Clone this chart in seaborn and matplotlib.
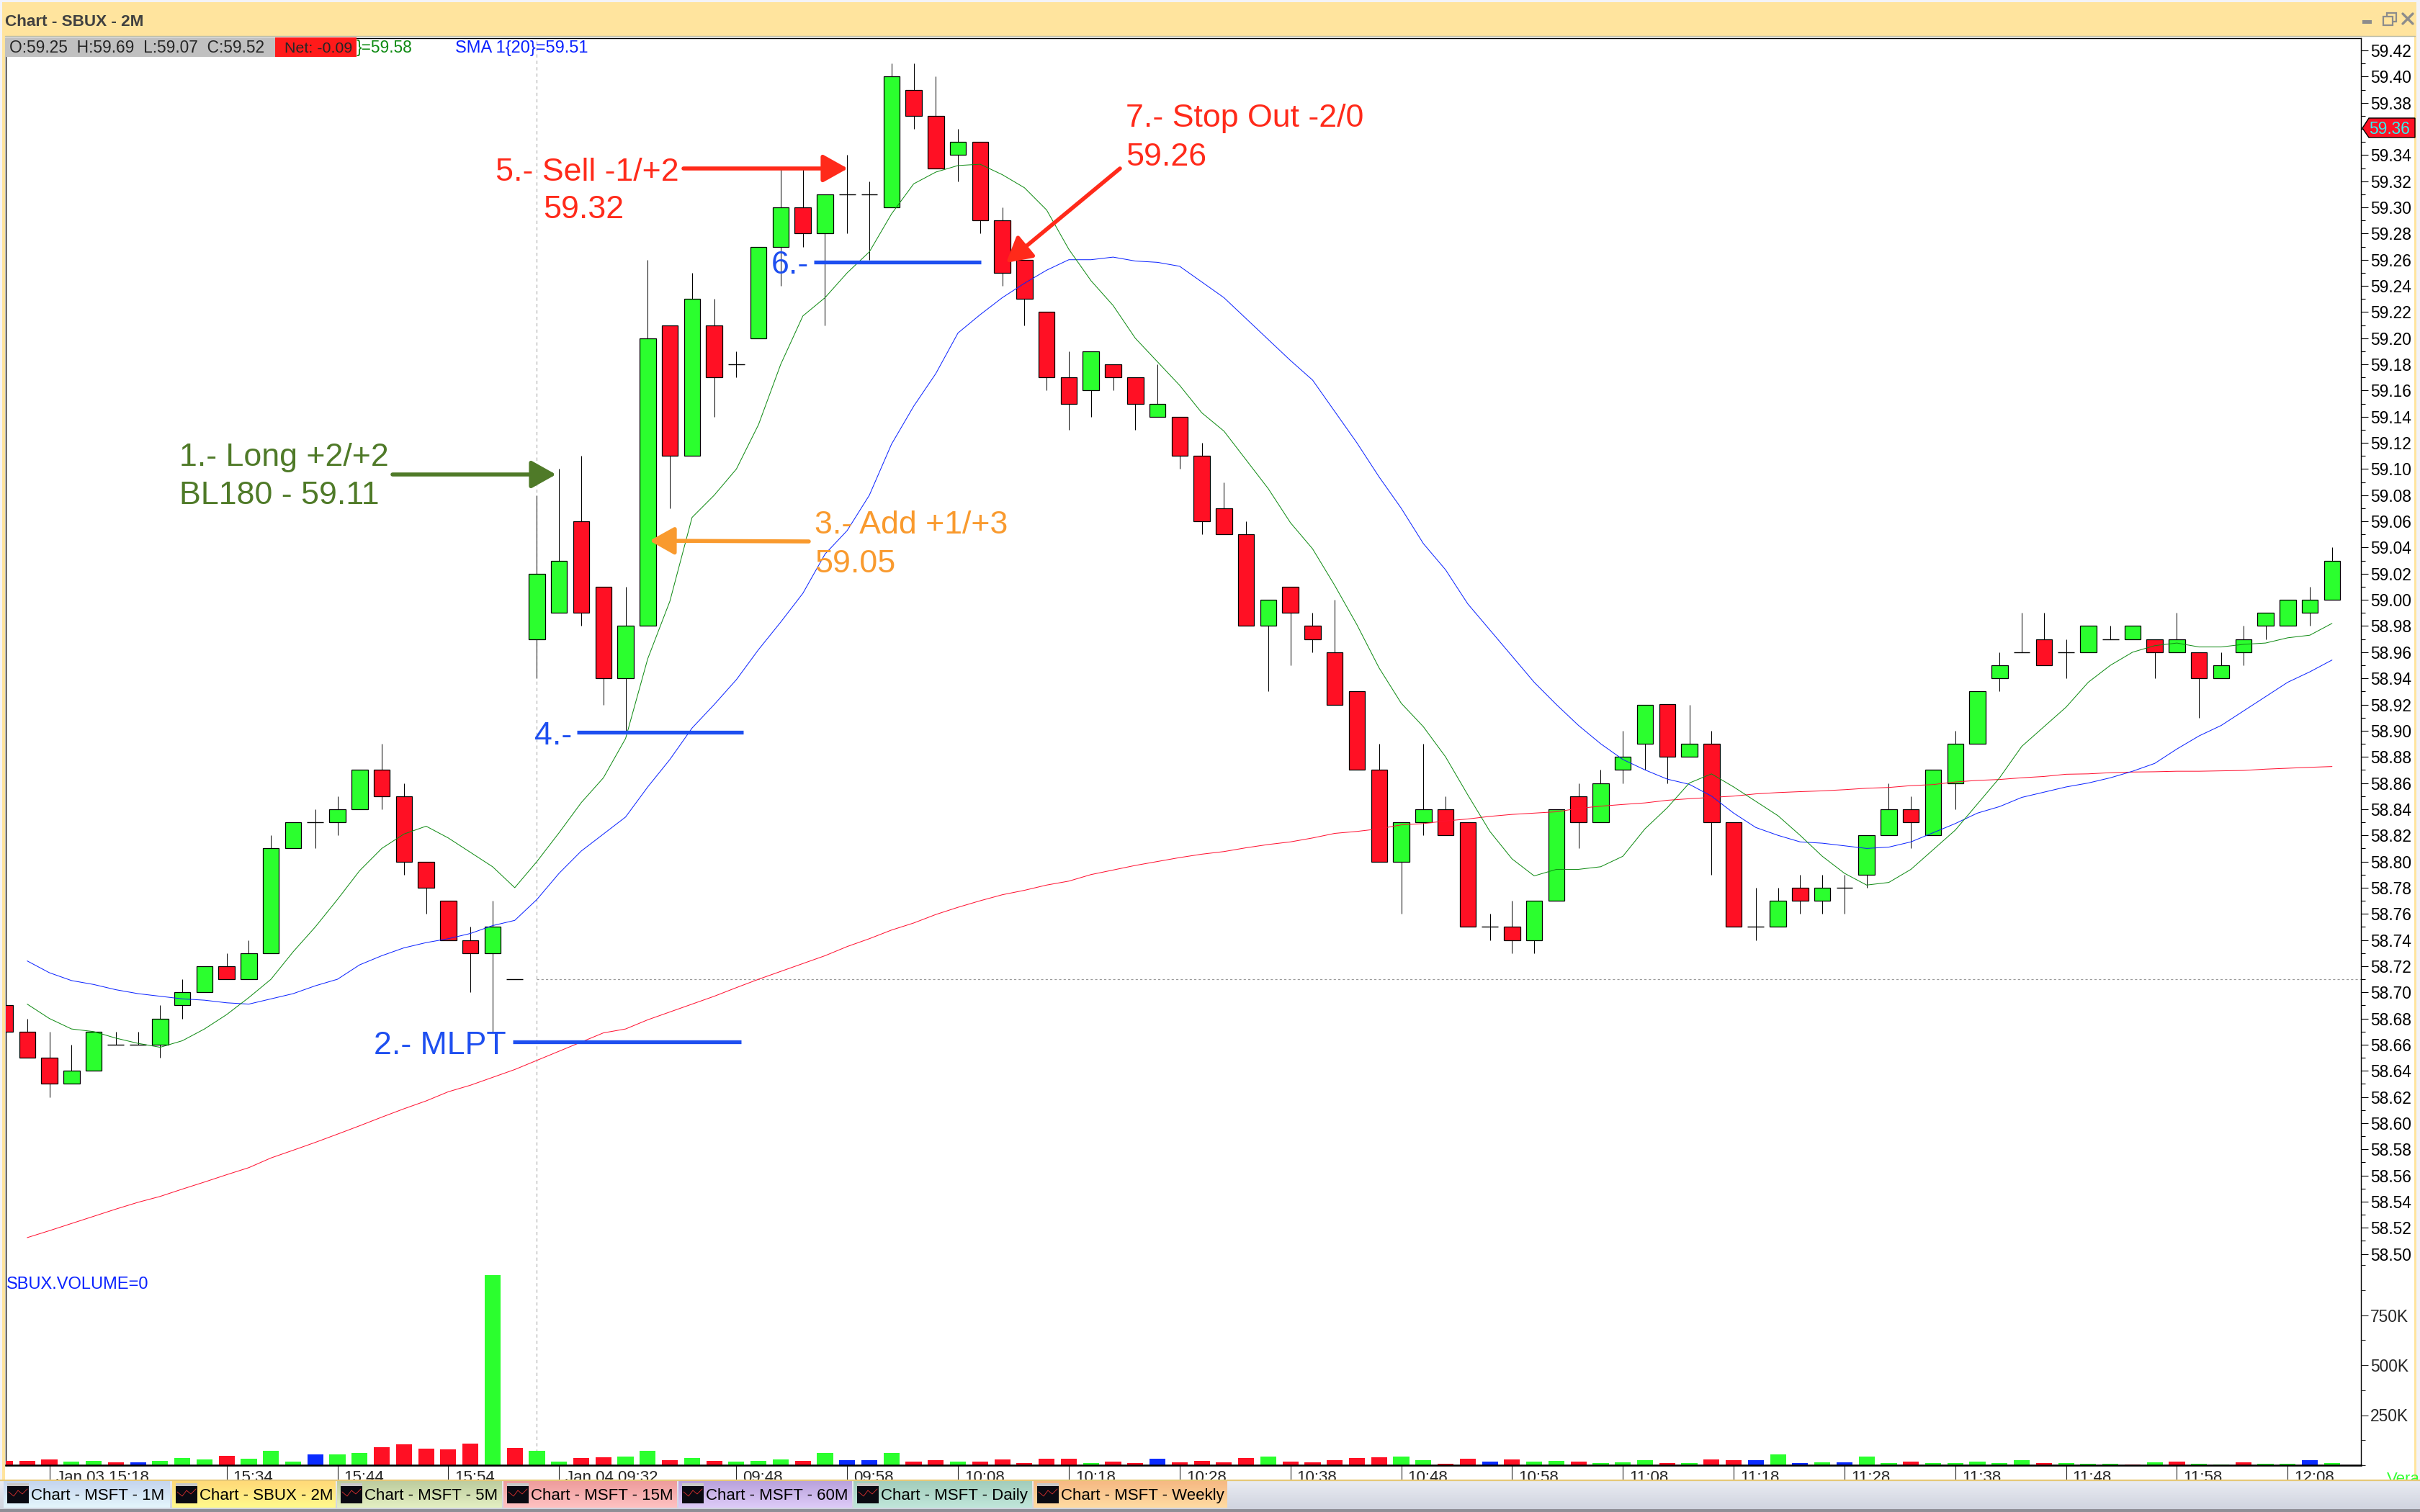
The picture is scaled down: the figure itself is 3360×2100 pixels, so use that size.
import numpy as np
import pandas as pd
import matplotlib
matplotlib.use("Agg")
import matplotlib.pyplot as plt
import seaborn as sns
from matplotlib.patches import Polygon, Rectangle
from matplotlib.transforms import ScaledTranslation
from matplotlib.colors import LinearSegmentedColormap

# ------------------------------------------------------------
# Chart values (SBUX 2 minute bars)
# ------------------------------------------------------------
opens = [58.69, 58.67, 58.65, 58.63, 58.64, 58.66, 58.66, 58.66, 58.69, 58.70,
         58.72, 58.71, 58.73, 58.81, 58.83, 58.83, 58.84, 58.87, 58.85, 58.80,
         58.77, 58.74, 58.73, 58.71, 58.97, 58.99, 59.06, 59.01, 58.94, 58.98,
         59.21, 59.11, 59.21, 59.18, 59.20, 59.27, 59.30, 59.28, 59.31, 59.31,
         59.30, 59.39, 59.37, 59.34, 59.35, 59.29, 59.26, 59.22, 59.17, 59.16,
         59.18, 59.17, 59.14, 59.14, 59.11, 59.07, 59.05, 58.98, 59.01, 58.98,
         58.96, 58.93, 58.87, 58.80, 58.83, 58.84, 58.83, 58.75, 58.75, 58.74,
         58.77, 58.85, 58.83, 58.87, 58.89, 58.92, 58.88, 58.89, 58.83, 58.75,
         58.75, 58.78, 58.77, 58.78, 58.79, 58.82, 58.84, 58.82, 58.86, 58.89,
         58.94, 58.96, 58.97, 58.96, 58.96, 58.97, 58.97, 58.97, 58.96, 58.96,
         58.94, 58.96, 58.98, 58.98, 58.99, 59.00]
highs = [58.69, 58.68, 58.67, 58.66, 58.67, 58.67, 58.67, 58.69, 58.71, 58.72,
         58.73, 58.74, 58.82, 58.83, 58.84, 58.85, 58.87, 58.89, 58.86, 58.80,
         58.77, 58.75, 58.77, 58.71, 59.08, 59.10, 59.11, 59.01, 59.01, 59.26,
         59.21, 59.25, 59.23, 59.19, 59.27, 59.33, 59.33, 59.31, 59.34, 59.32,
         59.41, 59.41, 59.40, 59.36, 59.35, 59.30, 59.26, 59.22, 59.19, 59.19,
         59.18, 59.17, 59.18, 59.14, 59.12, 59.09, 59.06, 59.00, 59.01, 58.99,
         59.00, 58.93, 58.89, 58.83, 58.89, 58.85, 58.83, 58.76, 58.77, 58.77,
         58.84, 58.86, 58.87, 58.90, 58.92, 58.92, 58.92, 58.90, 58.83, 58.78,
         58.78, 58.79, 58.79, 58.79, 58.82, 58.86, 58.85, 58.87, 58.90, 58.93,
         58.96, 58.99, 58.99, 58.97, 58.98, 58.98, 58.98, 58.97, 58.99, 58.96,
         58.96, 58.98, 58.99, 59.00, 59.01, 59.04]
lows = [58.67, 58.65, 58.62, 58.63, 58.64, 58.66, 58.66, 58.65, 58.68, 58.70,
        58.71, 58.71, 58.73, 58.81, 58.81, 58.82, 58.84, 58.84, 58.79, 58.76,
        58.74, 58.70, 58.67, 58.71, 58.94, 58.99, 58.98, 58.92, 58.90, 58.98,
        59.07, 59.11, 59.14, 59.17, 59.20, 59.24, 59.27, 59.21, 59.28, 59.26,
        59.30, 59.36, 59.33, 59.32, 59.28, 59.24, 59.21, 59.16, 59.13, 59.14,
        59.16, 59.13, 59.14, 59.10, 59.05, 59.05, 58.98, 58.93, 58.95, 58.96,
        58.92, 58.87, 58.80, 58.76, 58.82, 58.82, 58.75, 58.74, 58.73, 58.73,
        58.77, 58.81, 58.83, 58.86, 58.87, 58.86, 58.88, 58.79, 58.75, 58.74,
        58.75, 58.76, 58.76, 58.76, 58.78, 58.82, 58.81, 58.82, 58.84, 58.89,
        58.93, 58.96, 58.95, 58.94, 58.96, 58.97, 58.97, 58.94, 58.96, 58.91,
        58.94, 58.95, 58.97, 58.98, 58.98, 59.00]
closes = [58.67, 58.65, 58.63, 58.64, 58.67, 58.66, 58.66, 58.68, 58.70, 58.72,
          58.71, 58.73, 58.81, 58.83, 58.83, 58.84, 58.87, 58.85, 58.80, 58.78,
          58.74, 58.73, 58.75, 58.71, 59.02, 59.03, 58.99, 58.94, 58.98, 59.20,
          59.11, 59.23, 59.17, 59.18, 59.27, 59.30, 59.28, 59.31, 59.31, 59.31,
          59.40, 59.37, 59.33, 59.35, 59.29, 59.25, 59.23, 59.17, 59.15, 59.19,
          59.17, 59.15, 59.15, 59.11, 59.06, 59.05, 58.98, 59.00, 58.99, 58.97,
          58.92, 58.87, 58.80, 58.83, 58.84, 58.82, 58.75, 58.75, 58.74, 58.77,
          58.84, 58.83, 58.86, 58.88, 58.92, 58.88, 58.89, 58.83, 58.75, 58.75,
          58.77, 58.77, 58.78, 58.78, 58.82, 58.84, 58.83, 58.87, 58.89, 58.93,
          58.95, 58.96, 58.95, 58.96, 58.98, 58.97, 58.98, 58.96, 58.97, 58.94,
          58.95, 58.97, 58.99, 59.00, 59.00, 59.03]

sma_fast = [np.nan, 58.691, 58.680, 58.672, 58.670, 58.665, 58.661, 58.658, 58.663, 58.672,
            58.683, 58.696, 58.710, 58.731, 58.750, 58.771, 58.793, 58.810, 58.821, 58.827,
            58.818, 58.807, 58.796, 58.780, 58.800, 58.822, 58.845, 58.864, 58.894, 58.955,
            58.999, 59.063, 59.080, 59.100, 59.134, 59.180, 59.217, 59.231, 59.250, 59.266,
            59.295, 59.318, 59.327, 59.332, 59.333, 59.325, 59.315, 59.298, 59.268, 59.244,
            59.225, 59.200, 59.182, 59.164, 59.143, 59.129, 59.107, 59.085, 59.059, 59.039,
            59.011, 58.981, 58.948, 58.921, 58.903, 58.880, 58.851, 58.823, 58.802, 58.789,
            58.794, 58.794, 58.796, 58.804, 58.825, 58.841, 58.860, 58.867, 58.857, 58.846,
            58.835, 58.820, 58.804, 58.791, 58.782, 58.784, 58.794, 58.809, 58.824, 58.844,
            58.864, 58.888, 58.903, 58.918, 58.937, 58.950, 58.960, 58.965, 58.967, 58.964,
            58.964, 58.966, 58.967, 58.971, 58.973, 58.982]
sma_mid = [np.nan, 58.724, 58.715, 58.709, 58.706, 58.702, 58.699, 58.697, 58.695, 58.694,
           58.692, 58.691, 58.695, 58.699, 58.705, 58.710, 58.721, 58.728, 58.734, 58.738,
           58.741, 58.745, 58.751, 58.755, 58.771, 58.791, 58.808, 58.821, 58.834, 58.857,
           58.878, 58.902, 58.920, 58.939, 58.962, 58.983, 59.005, 59.035, 59.053, 59.080,
           59.119, 59.148, 59.173, 59.204, 59.218, 59.231, 59.242, 59.252, 59.260, 59.260,
           59.262, 59.259, 59.258, 59.255, 59.243, 59.231, 59.215, 59.199, 59.183, 59.168,
           59.144, 59.120, 59.094, 59.070, 59.043, 59.023, 58.997, 58.977, 58.957, 58.937,
           58.920, 58.904, 58.890, 58.878, 58.870, 58.863, 58.859, 58.850, 58.837, 58.826,
           58.820, 58.815, 58.814, 58.812, 58.810, 58.811, 58.815, 58.822, 58.829, 58.837,
           58.842, 58.849, 58.853, 58.857, 58.860, 58.864, 58.869, 58.875, 58.886, 58.896,
           58.904, 58.915, 58.926, 58.937, 58.945, 58.954]
sma_slow = [np.nan, 58.5125, 58.5178, 58.5233, 58.5288, 58.5343, 58.5395, 58.544, 58.5496, 58.555,
            58.5606, 58.566, 58.5734, 58.5793, 58.5853, 58.5916, 58.598, 58.6046, 58.611, 58.617,
            58.624, 58.629, 58.635, 58.641, 58.648, 58.655, 58.662, 58.669, 58.672, 58.679,
            58.685, 58.691, 58.697, 58.7036, 58.710, 58.716, 58.722, 58.728, 58.735, 58.741,
            58.7476, 58.753, 58.7595, 58.765, 58.770, 58.7746, 58.778, 58.782, 58.785, 58.790,
            58.7935, 58.797, 58.800, 58.803, 58.8056, 58.8076, 58.8105, 58.813, 58.815, 58.818,
            58.8215, 58.823, 58.825, 58.828, 58.829, 58.831, 58.8325, 58.8345, 58.836, 58.837,
            58.838, 58.8406, 58.8423, 58.8436, 58.8448, 58.8468, 58.848, 58.849, 58.850, 58.8517,
            58.8527, 58.8534, 58.854, 58.8549, 58.856, 58.8566, 58.858, 58.8588, 58.8608, 58.862,
            58.8627, 58.864, 58.865, 58.8667, 58.867, 58.8679, 58.8684, 58.8686, 58.869, 58.869,
            58.8693, 58.8696, 58.8706, 58.8713, 58.872, 58.8726]

# Volume in thousands of shares, with the colour class of each bar
volumes = [22, 22, 29, 18, 22, 14, 14, 22, 36, 29, 47, 32, 72, 18, 54, 54, 61, 90, 104, 83,
           79, 108, 950, 86, 72, 18, 36, 40, 43, 72, 25, 36, 22, 18, 22, 29, 22, 61, 25, 25,
           61, 18, 25, 18, 18, 29, 11, 32, 32, 11, 18, 11, 32, 14, 22, 14, 36, 43, 18, 14,
           25, 36, 40, 43, 25, 7, 32, 18, 29, 18, 22, 18, 11, 14, 25, 11, 11, 29, 25, 25,
           54, 11, 14, 14, 43, 11, 18, 11, 11, 18, 11, 25, 11, 11, 7, 7, 4, 14, 18, 7,
           4, 14, 7, 7, 25, 11]
volume_kind = list("rrrggrbggg" "rgggbggrrr" "rrgrggrrgg" "rgrgggrgbb" "grrgrrrrrg"
                   "rrbrrrrgrr" "rrrggrrbrg" "grggg" "rgrrb" "gbgbggrggg" "ggrgggrgrg"
                   "grggbg")

tick_bars = [2, 10, 15, 20, 25, 33, 38, 43, 48, 53, 58, 63, 68, 73, 78, 83, 88, 93, 98, 103]
tick_times = ["Jan 03 15:18", "15:34", "15:44", "15:54", "Jan 04 09:32", "09:48", "09:58",
              "10:08", "10:18", "10:28", "10:38", "10:48", "10:58", "11:08", "11:18",
              "11:28", "11:38", "11:48", "11:58", "12:08"]
price_ticks = [59.42, 59.40, 59.38, 59.36, 59.34, 59.32, 59.30, 59.28, 59.26, 59.24, 59.22,
               59.20, 59.18, 59.16, 59.14, 59.12, 59.10, 59.08, 59.06, 59.04, 59.02, 59.00,
               58.98, 58.96, 58.94, 58.92, 58.90, 58.88, 58.86, 58.84, 58.82, 58.80, 58.78,
               58.76, 58.74, 58.72, 58.70, 58.68, 58.66, 58.64, 58.62, 58.60, 58.58, 58.56,
               58.54, 58.52, 58.50]
volume_ticks = [250, 500, 750]
volume_tick_labels = ["250K", "500K", "750K"]
volume_minor = [0, 125, 375, 625, 875, 1000]

prior_close = 58.71
session_bar = 24
level_mlpt = 58.662      # 2.- MLPT
level_four = 58.899      # 4.-
level_six = 59.258       # 6.-

tabs = ["Chart - MSFT - 1M", "Chart - SBUX - 2M", "Chart - MSFT - 5M", "Chart - MSFT - 15M",
        "Chart - MSFT - 60M", "Chart - MSFT - Daily", "Chart - MSFT - Weekly"]

# ------------------------------------------------------------
# Colours, fonts and layout (layout in screenshot pixels)
# ------------------------------------------------------------
UP = "#2BFF2E"
DOWN = "#FF1024"
NEUTRAL = "#0A2BFF"
NOTE_RED = "#FF2A1A"
NOTE_GREEN = "#4F7A28"
NOTE_BLUE = "#1E4FF0"
NOTE_ORANGE = "#F99A2E"

W, H = 3360, 2100
PANE_L, PANE_R, PANE_T, PANE_B = 8, 3278, 53, 2035

sns.set_style("white")
plt.rcParams["font.family"] = ["Liberation Sans", "DejaVu Sans"]

fig = plt.figure(figsize=(W / 200, H / 200), dpi=200, facecolor="white")


def add_px_axes(zorder):
    chrome = fig.add_axes([0, 0, 1, 1], zorder=zorder)
    chrome.set_axis_off()
    chrome.patch.set_alpha(0)
    return chrome


def fix_px(chrome):
    chrome.set_xlim(0, W)
    chrome.set_ylim(H, 0)
    chrome.set_aspect("auto")


def gradient(chrome, x0, y0, x1, y1, top, bottom, z=1):
    cmap = LinearSegmentedColormap.from_list("g", [top, bottom])
    chrome.imshow(np.linspace(0, 1, 64).reshape(-1, 1), cmap=cmap, aspect="auto",
                  extent=(x0, x1, y1, y0), zorder=z, interpolation="bilinear")


back = add_px_axes(0)
front = add_px_axes(5)

# Window frame and title bar
back.add_patch(Rectangle((0, 0), W, H, color="#F3F3F8", lw=0))
back.add_patch(Rectangle((3, 3), W - 8, 2054, color="#FFE49E", lw=0))
back.add_patch(Rectangle((7, 50), W - 15, 2006, color="white", lw=0))
back.plot([7, 3353], [50, 50], color="#B9B9A0", lw=0.5)
fix_px(back)

# ------------------------------------------------------------
# Price pane
# ------------------------------------------------------------
pane_rect = [PANE_L / W, 1 - PANE_B / H, (PANE_R - PANE_L) / W, (PANE_B - PANE_T) / H]
ax = fig.add_axes(pane_rect, zorder=1, facecolor="white")
bars = np.arange(len(opens))
df = pd.DataFrame({"bar": bars, "open": opens, "high": highs, "low": lows, "close": closes,
                   "fast": sma_fast, "mid": sma_mid, "slow": sma_slow})

ax.vlines(df["bar"], df["low"], df["high"], color="black", lw=0.36, zorder=2)
body = df[df["open"] != df["close"]]
body_colors = [UP if c > o else DOWN for o, c in zip(body["open"], body["close"])]
ax.bar(body["bar"], (body["close"] - body["open"]).abs(),
       bottom=body[["open", "close"]].min(axis=1), width=0.73,
       color=body_colors, edgecolor="black", linewidth=0.45, zorder=3)
flat = df[df["open"] == df["close"]]
ax.hlines(flat["open"], flat["bar"] - 0.37, flat["bar"] + 0.37, color="black", lw=0.5, zorder=3)

for column, color in [("slow", "#FF1030"), ("mid", "#0A22FF"), ("fast", "#0E8A12")]:
    sns.lineplot(data=df, x="bar", y=column, color=color, lw=0.36, ax=ax,
                 estimator=None, legend=False, zorder=4)

ax.axvline(session_bar, color="#A8A8A8", lw=0.4, ls=(0, (4, 4)), zorder=1)
ax.plot([session_bar, 107], [prior_close, prior_close], color="#9A9A9A", lw=0.45,
        ls=(0, (2.5, 2.5)), zorder=1)

# Trade level lines
ax.hlines(level_mlpt, 22.9, 33.2, color=NOTE_BLUE, lw=1.9, zorder=5)
ax.hlines(level_four, 25.8, 33.3, color=NOTE_BLUE, lw=1.9, zorder=5)
ax.hlines(level_six, 36.5, 44.05, color=NOTE_BLUE, lw=1.9, zorder=5)

x_left = (PANE_L - 7) / 30.77
x_right = (PANE_R - 7) / 30.77
ax.set_xlim(x_left, x_right)
ax.set_ylim(59.42 - (PANE_B - 70) / 1817, 59.42 + (70 - PANE_T) / 1817)
ax.set_xlabel("")
ax.set_ylabel("")
ax.set_xticks([])
ax.yaxis.tick_right()
ax.set_yticks(price_ticks)
ax.set_yticklabels(["%.2f" % p for p in price_ticks], fontsize=8.2, color="black")
ax.set_yticks(np.array(price_ticks[:-1]) - 0.01, minor=True)
ax.tick_params(axis="y", which="major", direction="out", length=3.6, width=0.4,
               pad=1.2, color="black", right=True, left=False)
ax.tick_params(axis="y", which="minor", direction="out", length=2.2, width=0.4,
               color="black", right=True, left=False)
for side in ["left", "right", "top", "bottom"]:
    ax.spines[side].set_visible(True)
    ax.spines[side].set_linewidth(0.5)
    ax.spines[side].set_color("black")

# ------------------------------------------------------------
# Volume pane, drawn over the lower part of the same area
# ------------------------------------------------------------
vol = fig.add_axes(pane_rect, zorder=2, facecolor="none")
vol_df = pd.DataFrame({"bar": bars, "volume": volumes, "kind": volume_kind})
sns.barplot(data=vol_df, x="bar", y="volume", hue="kind", native_scale=True, dodge=False,
            palette={"g": UP, "r": DOWN, "b": NEUTRAL}, width=0.72, saturation=1,
            linewidth=0, legend=False, ax=vol)
vol.set_xlim(x_left, x_right)
vol.set_ylim(0, (PANE_B - PANE_T) * 250 / 69.5)
vol.set_xlabel("")
vol.set_ylabel("")
vol.yaxis.tick_right()
vol.set_yticks(volume_ticks)
vol.set_yticklabels(volume_tick_labels, fontsize=8.2)
vol.set_yticks(volume_minor, minor=True)
vol.tick_params(axis="y", which="major", length=3.6, width=0.4, pad=1.2, right=True, left=False)
vol.tick_params(axis="y", which="minor", length=2.2, width=0.4, right=True, left=False)
vol.set_xticks(tick_bars)
vol.set_xticklabels(tick_times, fontsize=8, ha="left")
vol.tick_params(axis="x", which="major", direction="out", length=7.4, width=0.4, pad=-5.0,
                bottom=True)
nudge = ScaledTranslation(9 / 200, 0, fig.dpi_scale_trans)
for label in vol.get_xticklabels():
    label.set_transform(label.get_transform() + nudge)
for side in ["left", "right", "top"]:
    vol.spines[side].set_visible(False)
vol.spines["bottom"].set_linewidth(0.9)
vol.spines["bottom"].set_color("black")

# ------------------------------------------------------------
# Front layer: tabs, header text, price tag and trade notes
# ------------------------------------------------------------
front.add_patch(Rectangle((0, 2056), W, 44, color="#E9EBF2", lw=0, zorder=0.5))
gradient(front, 0, 2057, W, 2096, "#E9EBF2", "#D0D4DF", z=0.6)
front.add_patch(Rectangle((0, 2096), W, 4, color="#8E8E96", lw=0, zorder=0.7))
front.plot([0, W], [2056, 2056], color="#E6C878", lw=0.8, zorder=0.8)

tab_edges = [(5, 236), (239, 466), (468, 697), (699, 940), (942, 1183), (1185, 1433), (1435, 1704)]
tab_colors = [("#C5D5EE", "#E4F6FC"), ("#FFD978", "#FFFA8C"), ("#BDCC9F", "#E4F0C2"),
              ("#EE9C9C", "#FFC2C2"), ("#B9A2DC", "#DECBF8"), ("#A3CDBB", "#C0E6DA"),
              ("#F6B983", "#FFDBA2")]
for (x0, x1), (c0, c1), name in zip(tab_edges, tab_colors, tabs):
    gradient(front, x0, 2057, x1, 2094, c0, c1, z=1)
    front.add_patch(Rectangle((x0 + 5, 2064), 30, 24, color="#0A0A12", lw=0, zorder=2))
    front.add_patch(Rectangle((x0 + 5, 2060), 30, 4, color="#C8C8C8", lw=0, zorder=2))
    front.plot([x0 + 7, x0 + 14, x0 + 20, x0 + 26, x0 + 33],
               [2072, 2078, 2070, 2075, 2068], color="#E03030", lw=0.3, zorder=3)
    front.text(x0 + 38, 2083, name, fontsize=8, color="black", va="baseline", zorder=3)

# Title bar
front.text(7, 36, "Chart - SBUX - 2M", fontsize=8.1, fontweight="bold", color="#404040", va="baseline")
front.add_patch(Rectangle((3280, 28), 13, 5, color="#8C8C8C", lw=0))
front.add_patch(Rectangle((3314, 18), 13, 12, fill=False, ec="#8C8C8C", lw=0.8))
front.add_patch(Rectangle((3309, 23), 13, 12, fc="#FFE49E", ec="#8C8C8C", lw=0.8))
front.plot([3336, 3350], [19, 33], color="#8C8C8C", lw=1.2)
front.plot([3336, 3350], [33, 19], color="#8C8C8C", lw=1.2)

# Readout strip
front.add_patch(Rectangle((7, 52), 375, 27, color="#C0C0C0", lw=0))
front.add_patch(Rectangle((382, 52), 113, 27, color="#FF1A1A", lw=0))
front.text(13, 73, "O:59.25  H:59.69  L:59.07  C:59.52", fontsize=8.2, va="baseline")
front.text(395, 73, "Net: -0.09", fontsize=7.7, va="baseline")
front.text(495, 73, "}=59.58", fontsize=8.2, color="#0E8A12", va="baseline")
front.text(632, 73, "SMA 1{20}=59.51", fontsize=8.5, color="#0A22FF", va="baseline")
front.text(9, 1790, "SBUX.VOLUME=0", fontsize=8.5, color="#0A22FF", va="baseline")

# Last price tag
front.add_patch(Polygon([(3280, 178), (3289, 164), (3353, 164), (3353, 191), (3289, 191)],
                        closed=True, fc=DOWN, ec="black", lw=0.5, zorder=3))
front.text(3289, 186, "59.36", fontsize=8.2, color="#30F0F0", va="baseline", zorder=4)

# Clipped label in the lower right corner
front.text(3314, 2060, "Vera", fontsize=8, color="#33FF33", va="baseline", zorder=0.4)

# Trade notes
notes = [("1.- Long +2/+2", 249, 647, NOTE_GREEN), ("BL180 - 59.11", 249, 700, NOTE_GREEN),
         ("2.- MLPT", 519, 1464, NOTE_BLUE), ("3.- Add +1/+3", 1131, 741, NOTE_ORANGE),
         ("59.05", 1131, 795, NOTE_ORANGE), ("4.-", 742, 1034, NOTE_BLUE),
         ("5.- Sell -1/+2", 688, 251, NOTE_RED), ("59.32", 754, 303, NOTE_RED),
         ("6.-", 1071, 380, NOTE_BLUE), ("7.- Stop Out -2/0", 1563, 176, NOTE_RED),
         ("59.26", 1563, 230, NOTE_RED)]
for text, x, y, color in notes:
    front.text(x, y, text, fontsize=16.1, color=color, va="baseline", zorder=6)

arrows = [((545, 659), (772, 659), NOTE_GREEN), ((949, 234), (1177, 234), NOTE_RED),
          ((1123, 752), (902, 751), NOTE_ORANGE), ((1555, 234), (1397, 365), NOTE_RED)]
for start, tip, color in arrows:
    front.annotate("", xy=tip, xytext=start, zorder=6,
                   arrowprops=dict(arrowstyle="-|>,head_length=0.75,head_width=0.42", color=color,
                                   lw=2.0, shrinkA=0, shrinkB=0, mutation_scale=14))

fix_px(front)

fig.savefig("out.png", dpi=200, facecolor="white")
plt.close(fig)
